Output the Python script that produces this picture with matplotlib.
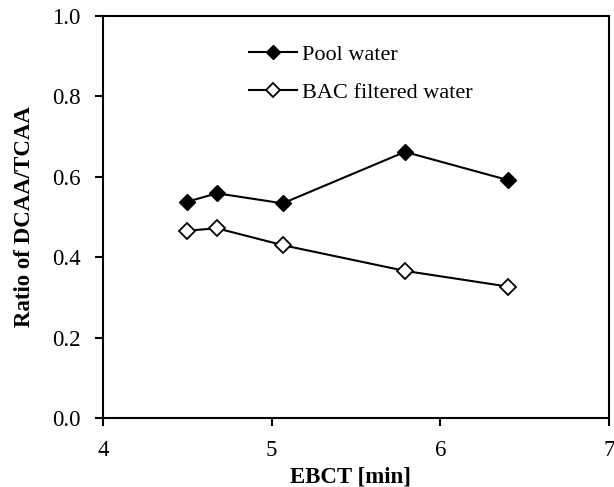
import matplotlib
matplotlib.use("Agg")
import matplotlib.pyplot as plt

plt.rcParams['font.family'] = ['Liberation Serif', 'DejaVu Serif']

# EBCT (min) and DCAA/TCAA ratios
ebct = [4.50, 4.675, 5.065, 5.79, 6.40]
pool_water = [0.538, 0.559, 0.534, 0.662, 0.592]
bac_filtered = [0.466, 0.472, 0.430, 0.366, 0.327]

x_ticks = [4, 5, 6, 7]
y_ticks = [0.0, 0.2, 0.4, 0.6, 0.8, 1.0]

fig = plt.figure(figsize=(6.14, 4.87), dpi=100)
ax = fig.add_axes([0.1678, 0.1417, 0.8241, 0.8254])

ax.plot(ebct, pool_water, color='black', lw=1.5, marker='D', ms=8.5,
        mfc='black', mec='black', label='Pool water')
ax.plot(ebct, bac_filtered, color='black', lw=1.5, marker='D', ms=8.5,
        mfc='white', mec='black', mew=1.3, label='BAC filtered water')

ax.set_xlim(4, 7)
ax.set_ylim(0, 1.0)
ax.set_xticks(x_ticks)
ax.set_xticklabels([str(t) for t in x_ticks])
ax.set_yticks(y_ticks)
ax.set_yticklabels([f"{t:.1f}" for t in y_ticks])

for s in ax.spines.values():
    s.set_linewidth(1.5)
ax.tick_params(axis='both', direction='out', length=6, width=1.5,
               labelsize=16.5, top=False, right=False)
ax.tick_params(axis='y', pad=10)
ax.tick_params(axis='x', pad=10)

ax.set_xlabel('EBCT [min]', fontsize=16.5, fontweight='bold')
ax.xaxis.set_label_coords(0.49, -0.12)
ax.set_ylabel('Ratio of DCAA/TCAA', fontsize=16.5, fontweight='bold')
ax.yaxis.set_label_coords(-0.135, 0.5)

leg = ax.legend(loc='upper left', bbox_to_anchor=(0.289, 0.93), frameon=False,
                fontsize=16, handlelength=2.16, handletextpad=0.23,
                borderpad=0, borderaxespad=0,
                markerscale=0.8, labelspacing=0.8)

fig.savefig('out.png', dpi=100)
